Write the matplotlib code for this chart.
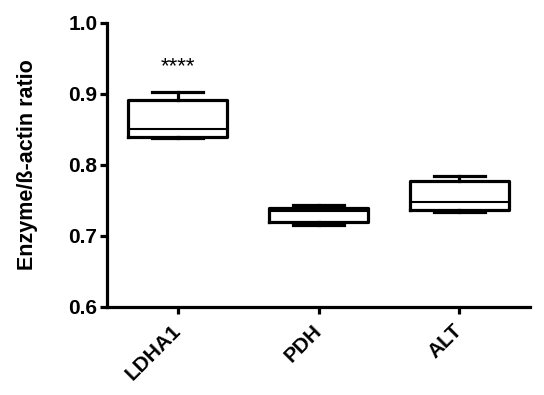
import matplotlib
matplotlib.use("Agg")
import matplotlib.pyplot as plt

plt.rcParams['font.family'] = ['Liberation Sans', 'DejaVu Sans']

# box summaries
groups = ["LDHA1", "PDH", "ALT"]
lows = [0.838, 0.716, 0.733]
q1s = [0.840, 0.719, 0.737]
medians = [0.850, 0.735, 0.748]
q3s = [0.891, 0.740, 0.777]
highs = [0.903, 0.743, 0.785]
yticks = [0.6, 0.7, 0.8, 0.9, 1.0]
stars = {"LDHA1": "****"}

fig = plt.figure(figsize=(5.44, 3.95), dpi=100)
ax = fig.add_axes([0.197, 0.223, 0.777, 0.719])

stats = []
for name, lo, a, m, b, hi in zip(groups, lows, q1s, medians, q3s, highs):
    stats.append({"label": name, "whislo": lo, "q1": a, "med": m,
                  "q3": b, "whishi": hi, "fliers": []})

positions = list(range(1, len(groups) + 1))
ax.bxp(stats, positions=positions, widths=0.7, showfliers=False,
       capwidths=0.36,
       boxprops=dict(color="black", linewidth=2.3),
       whiskerprops=dict(color="black", linewidth=2.3),
       capprops=dict(color="black", linewidth=2.3),
       medianprops=dict(color="black", linewidth=1.5))

for pos, name, hi in zip(positions, groups, highs):
    if name in stars:
        ax.text(pos, hi + 0.02, stars[name], ha="center", va="bottom",
                fontsize=16, color="black")

ax.set_xlim(0.5, 3.5)
ax.set_ylim(0.6, 1.0)
ax.set_yticks(yticks)
ax.set_yticklabels(["%.1f" % t for t in yticks], fontsize=15, fontweight="bold")
ax.set_xticks(positions)
ax.set_xticklabels(groups, rotation=45, ha="right", va="center",
                   rotation_mode="anchor", fontsize=15, fontweight="bold")
ax.set_ylabel("Enzyme/ß-actin ratio", fontsize=15.5, fontweight="bold", labelpad=22)

for side in ["top", "right"]:
    ax.spines[side].set_visible(False)
for side in ["left", "bottom"]:
    ax.spines[side].set_linewidth(2.3)
ax.tick_params(width=2.3, length=5, direction="out", pad=2)
ax.tick_params(axis="x", pad=10)

fig.savefig("out.png", dpi=100)
